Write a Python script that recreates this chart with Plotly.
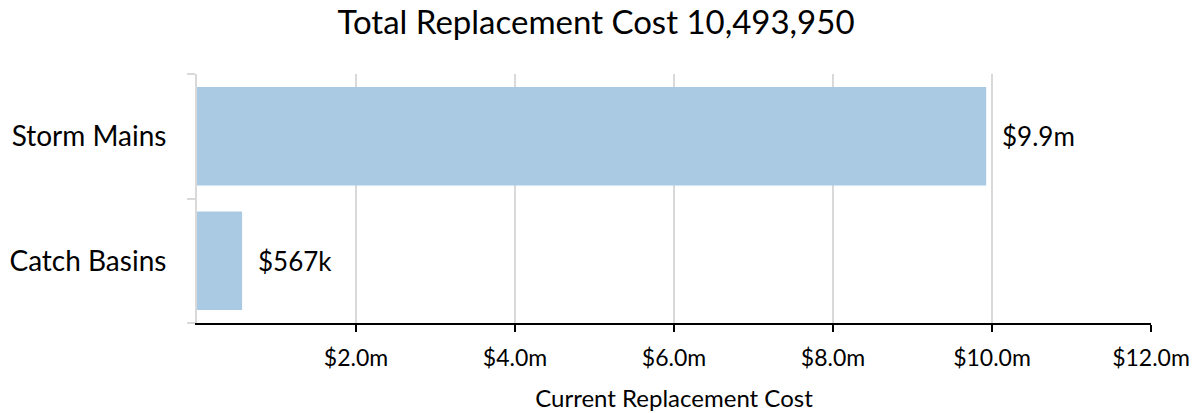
import plotly.graph_objects as go

# données
categories = ["Catch Basins", "Storm Mains"]
values = [567000, 9926950]
labels = ["$567k", "$9.9m"]
tick_vals = [2e6, 4e6, 6e6, 8e6, 10e6, 12e6]
tick_text = ["$2.0m", "$4.0m", "$6.0m", "$8.0m", "$10.0m", "$12.0m"]
title = "Total Replacement Cost 10,493,950"
x_title = "Current Replacement Cost"

font = "Lato"

fig = go.Figure(go.Bar(
    x=values, y=categories, orientation="h",
    marker=dict(color="#aacae4", line=dict(width=0)),
    hoverinfo="skip",
))

# étiquettes des barres
for v, c, t in zip(values, categories, labels):
    fig.add_annotation(x=v, y=c, text=t, showarrow=False, xanchor="left",
                       xshift=14, font=dict(family=font, size=26, color="black"))

fig.update_layout(
    width=1192, height=413,
    title=dict(text=title, x=0.5, xanchor="center", y=1 - 22 / 413, yanchor="middle",
               font=dict(family=font, size=33, color="black")),
    margin=dict(l=197, r=41, t=74, b=90, autoexpand=False),
    plot_bgcolor="white", paper_bgcolor="white",
    bargap=0.21, showlegend=False,
    font=dict(family=font, color="black"),
    xaxis=dict(range=[0, 12e6], tickvals=tick_vals, ticktext=tick_text,
               showgrid=True, gridcolor="#d9d9d9", gridwidth=1.5,
               showline=True, linecolor="black", linewidth=2,
               ticks="outside", ticklen=7, tickcolor="black", tickwidth=2,
               ticklabelstandoff=6,
               tickfont=dict(size=23), zeroline=False,
               title=dict(text=x_title, font=dict(size=24), standoff=21)),
    yaxis=dict(showgrid=False, showline=True, linecolor="#d9d9d9", linewidth=2,
               ticks="outside", tickson="boundaries", ticklen=8,
               tickcolor="#d9d9d9", tickwidth=2, ticklabelstandoff=23,
               tickfont=dict(size=28), zeroline=False),
)

fig.write_html("out.html", config={"displayModeBar": False},
               post_script="document.body.style.margin='0';")
